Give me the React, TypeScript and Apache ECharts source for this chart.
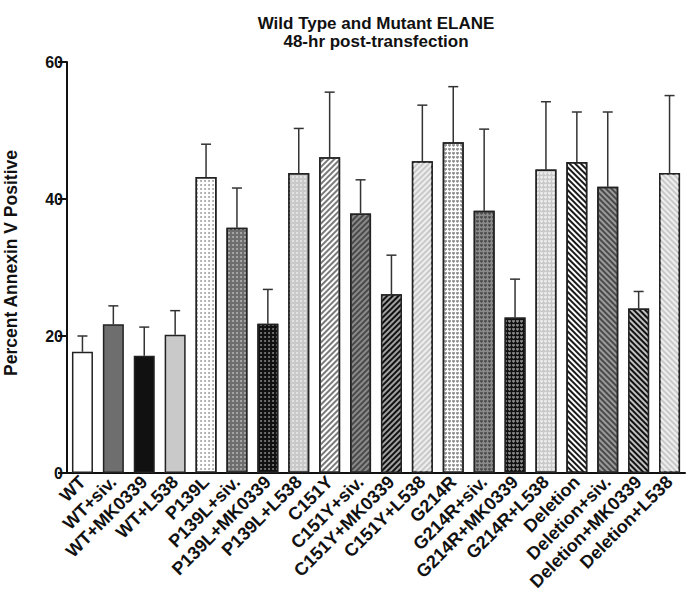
import React, { useEffect, useRef } from "react";
import * as echarts from "echarts";

const categories = [
  "WT", "WT+siv.", "WT+MK0339", "WT+L538",
  "P139L", "P139L+siv.", "P139L+MK0339", "P139L+L538",
  "C151Y", "C151Y+siv.", "C151Y+MK0339", "C151Y+L538",
  "G214R", "G214R+siv.", "G214R+MK0339", "G214R+L538",
  "Deletion", "Deletion+siv.", "Deletion+MK0339", "Deletion+L538",
];
const means = [17.7, 21.7, 17.1, 20.2, 43.2, 35.8, 21.8, 43.8, 46.1, 37.9, 26.1, 45.5, 48.3, 38.3, 22.7, 44.3, 45.4, 41.8, 24.0, 43.8];
const errors = [2.3, 2.7, 4.2, 3.5, 4.8, 5.8, 5.0, 6.5, 9.5, 4.9, 5.7, 8.2, 8.1, 11.9, 5.6, 9.9, 7.3, 10.9, 2.5, 11.3];
const yTicks = [0, 20, 40, 60];
const titleLines = ["Wild Type and Mutant ELANE", "48-hr post-transfection"];

// styling per treatment (base colour) and per genotype (pattern)
const patternColors = [
  ["", "", "", ""],
  ["#9a9a9a", "#b8b8b8", "#8a8a8a", "#ececec"],
  ["#7a7a7a", "#4a4a4a", "#a0a0a0", "#eeeeee"],
  ["#8a8a8a", "#4c4c4c", "#8c8c8c", "#eeeeee"],
  ["#1a1a1a", "#4a4a4a", "#c0c0c0", "#eeeeee"],
];
const patternBase = [
  ["#ffffff", "#6e6e6e", "#111111", "#c9c9c9"],
  ["#ffffff", "#6e6e6e", "#111111", "#c9c9c9"],
  ["#ffffff", "#8a8a8a", "#111111", "#c9c9c9"],
  ["#ffffff", "#8a8a8a", "#111111", "#c9c9c9"],
  ["#ffffff", "#9a9a9a", "#111111", "#c9c9c9"],
];

const heart =
  "path://M12 21.35l-1.45-1.32C5.4 15.36 2 12.28 2 8.5 2 5.42 4.42 3 7.5 3c1.74 0 3.41.81 4.5 2.09C13.09 3.81 14.76 3 16.5 3 19.58 3 22 5.42 22 8.5c0 3.78-3.4 6.86-8.55 11.54L12 21.35z";

function decalFor(group: number, color: string): any {
  if (group === 1)
    return { symbol: "circle", symbolSize: 0.9, color, dashArrayX: [1.5, 1.9], dashArrayY: [1.5, 1.9] };
  if (group === 2)
    return { symbol: "rect", symbolSize: 1, color, dashArrayX: [1, 0], dashArrayY: [1.2, 1.3], rotation: -Math.PI / 4 };
  if (group === 3)
    return { symbol: heart, symbolSize: 1, color, dashArrayX: [2.6, 0.8], dashArrayY: [2.6, 0.8] };
  if (group === 4)
    return { symbol: "rect", symbolSize: 1, color, dashArrayX: [1, 0], dashArrayY: [1.4, 1.4], rotation: Math.PI / 4 };
  return null;
}

export default function App() {
  const ref = useRef<HTMLDivElement>(null);
  useEffect(() => {
    if (!ref.current) return;
    document.body.style.margin = "0";
    const chart = echarts.init(ref.current, null, { renderer: "svg" });
    const font = "'Liberation Sans', Arial, Helvetica, sans-serif";
    const barData = means.map((v, i) => {
      const g = Math.floor(i / 4);
      const t = i % 4;
      const item: any = {
        value: v,
        itemStyle: { color: patternBase[g][t] },
      };
      if (g > 0) item.itemStyle.decal = decalFor(g, patternColors[g][t]);
      return item;
    });
    const errData = means.map((v, i) => [i, v, v + errors[i]]);
    const titleStyle = {
      fontFamily: font,
      fontWeight: "bold",
      fontSize: 17,
      fill: "#111",
      align: "center",
      verticalAlign: "alphabetic",
    };
    chart.setOption({
      animation: false,
      grid: { left: 67, right: 5, top: 62, bottom: 124, containLabel: false },
      xAxis: {
        type: "category",
        data: categories,
        axisLine: { lineStyle: { color: "#111", width: 2 } },
        axisTick: { alignWithLabel: true, length: 5, lineStyle: { color: "#111", width: 2 } },
        axisLabel: {
          rotate: 45,
          interval: 0,
          margin: 6,
          color: "#111",
          fontWeight: "bold",
          fontSize: 18,
          fontFamily: font,
        },
      },
      yAxis: {
        type: "value",
        min: 0,
        max: 60,
        interval: 20,
        axisLine: { show: true, lineStyle: { color: "#111", width: 2 } },
        axisTick: { show: true, length: 9, lineStyle: { color: "#111", width: 2 } },
        splitLine: { show: false },
        axisLabel: {
          color: "#111",
          fontWeight: "bold",
          fontSize: 16,
          fontFamily: font,
          margin: 4,
          formatter: (v: number) => (yTicks.includes(v) ? String(v) : ""),
        },
      },
      graphic: [
        { type: "text", x: 376, y: 15, style: { ...titleStyle, text: titleLines[0] } },
        { type: "text", x: 376, y: 33, style: { ...titleStyle, text: titleLines[1] } },
        {
          type: "text",
          x: 11,
          y: 263,
          rotation: Math.PI / 2,
          style: {
            text: "Percent Annexin V Positive",
            fontFamily: font,
            fontWeight: "bold",
            fontSize: 17.5,
            fill: "#111",
            align: "center",
            verticalAlign: "middle",
          },
        },
      ],
      series: [
        {
          type: "bar",
          data: barData,
          barWidth: "68%",
          itemStyle: { borderColor: "#222", borderWidth: 1.5 },
          z: 2,
        },
        {
          type: "custom",
          data: errData,
          z: 1,
          renderItem: (params: any, api: any) => {
            const x = api.value(0);
            const p0 = api.coord([x, api.value(1)]);
            const p1 = api.coord([x, api.value(2)]);
            const half = 5;
            const style = { stroke: "#333", lineWidth: 1.5 };
            return {
              type: "group",
              children: [
                { type: "line", shape: { x1: p0[0], y1: p0[1], x2: p1[0], y2: p1[1] }, style },
                { type: "line", shape: { x1: p1[0] - half, y1: p1[1], x2: p1[0] + half, y2: p1[1] }, style },
              ],
            };
          },
        },
      ],
    });
    return () => chart.dispose();
  }, []);
  return <div ref={ref} style={{ width: 690, height: 597 }} />;
}
